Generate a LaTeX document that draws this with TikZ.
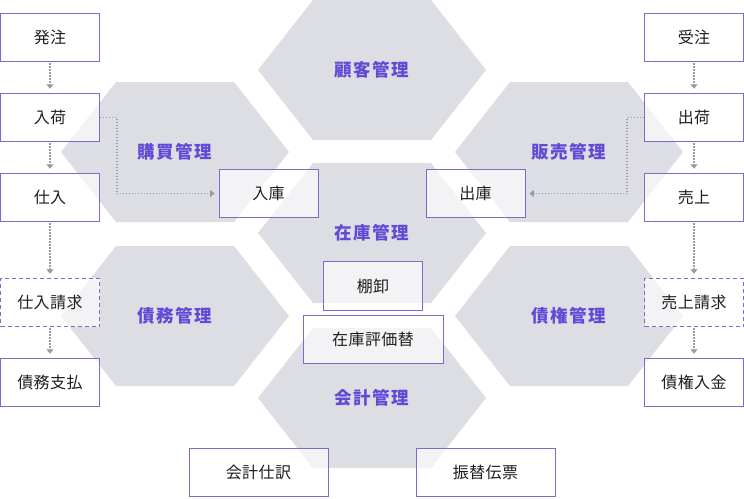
\documentclass[tikz,border=0pt]{standalone}
\usepackage{fontspec}
\setmainfont{Noto Sans CJK JP}
\newfontfamily\boxfont[LetterSpace=3]{Noto Sans CJK JP}
\newfontfamily\labfont[LetterSpace=9]{Noto Sans CJK JP}
\usetikzlibrary{arrows.meta}
\definecolor{hexgray}{RGB}{221,222,227}
\definecolor{boxline}{RGB}{125,107,201}
\definecolor{labelc}{RGB}{98,74,214}
\definecolor{arrowc}{RGB}{155,155,160}
\definecolor{boxtext}{RGB}{30,30,30}
\tikzset{
  hexfill/.style={fill=hexgray},
  lab/.style={text=labelc, font=\labfont\bfseries\fontsize{17.5}{20}\selectfont, inner sep=0pt},
  box/.style={draw=boxline, line width=0.9pt, fill=white, fill opacity=0.65, text opacity=1,
    minimum width=99pt, minimum height=48.5pt, inner sep=0pt, text=boxtext,
    font=\boxfont\fontsize{16}{19}\selectfont},
  dbox/.style={box, dash pattern=on 4pt off 3pt},
  conn/.style={draw=arrowc, line width=1.4pt, dash pattern=on 1.4pt off 1.6pt,
    -{Triangle[length=4.5pt,width=7pt,fill=arrowc]}, shorten >=4pt, shorten <=1pt}
}
\newcommand\hexagonat[1]{\fill[hexfill] (#1) ++(-114,0) -- ++(55,-70) -- ++(118,0) -- ++(55,70) -- ++(-55,70) -- ++(-118,0) -- cycle;}
\begin{document}
\begin{tikzpicture}[x=1pt,y=-1pt]
\useasboundingbox (0,0) rectangle (744,498);
% hexagon centres
\coordinate (hKokyaku) at (372,70);
\coordinate (hKobai) at (175,152);
\coordinate (hHanbai) at (569,152);
\coordinate (hZaiko) at (372,233);
\coordinate (hSaimu) at (175,316);
\coordinate (hSaiken) at (569,316);
\coordinate (hKaikei) at (372,398);
\foreach \h in {hKokyaku,hKobai,hHanbai,hZaiko,hSaimu,hSaiken,hKaikei}{\hexagonat{\h}}
% labels
\node[lab] (lKokyaku) at (hKokyaku) {顧客管理};
\node[lab] (lKobai) at (hKobai) {購買管理};
\node[lab] (lHanbai) at (hHanbai) {販売管理};
\node[lab] (lZaiko) at (hZaiko) {在庫管理};
\node[lab] (lSaimu) at (hSaimu) {債務管理};
\node[lab] (lSaiken) at (hSaiken) {債権管理};
\node[lab] (lKaikei) at (hKaikei) {会計管理};
% left column
\node[box] (hatchu) at (50,37.5) {発注};
\node[box] (nyuka) at (50,117.5) {入荷};
\node[box] (shiire) at (50,197.5) {仕入};
\node[dbox] (shiireseikyu) at (50,302.5) {仕入請求};
\node[box] (saimushiharai) at (50,382.5) {債務支払};
% right column
\node[box] (juchu) at (694,37.5) {受注};
\node[box] (shukka) at (694,117.5) {出荷};
\node[box] (uriage) at (694,197.5) {売上};
\node[dbox] (uriageseikyu) at (694,302.5) {売上請求};
\node[box] (saikennyukin) at (694,382.5) {債権入金};
% centre boxes
\node[box] (nyuko) at (268.5,193.5) {入庫};
\node[box] (shukko) at (475.5,193.5) {出庫};
\node[box] (tanaoroshi) at (373,286) {棚卸};
\node[box, minimum width=140pt] (hyoka) at (373,339.5) {在庫評価替};
\node[box, minimum width=139pt] (shiwake) at (258.5,472.5) {会計仕訳};
\node[box, minimum width=139pt] (furikae) at (485.5,472.5) {振替伝票};
% connectors
\draw[conn] (hatchu) -- (nyuka);
\draw[conn] (nyuka) -- (shiire);
\draw[conn] (shiire) -- (shiireseikyu);
\draw[conn] (shiireseikyu) -- (saimushiharai);
\draw[conn] (juchu) -- (shukka);
\draw[conn] (shukka) -- (uriage);
\draw[conn] (uriage) -- (uriageseikyu);
\draw[conn] (uriageseikyu) -- (saikennyukin);
\draw[conn, shorten <=0pt] (nyuka.east) -- ++(17,0) |- (nyuko.west);
\draw[conn, shorten <=0pt] (shukka.west) -- ++(-17,0) |- (shukko.east);
\end{tikzpicture}
\end{document}
